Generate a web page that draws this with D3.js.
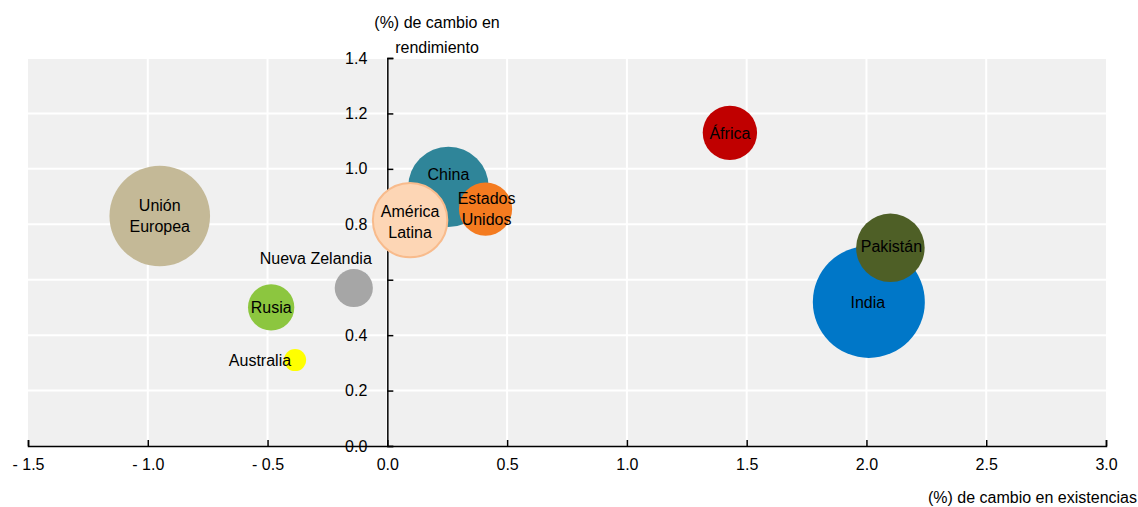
<!DOCTYPE html>
<html lang="es">
<head>
<meta charset="utf-8">
<title>Rendimiento vs existencias</title>
<script src="https://cdnjs.cloudflare.com/ajax/libs/d3/7.8.5/d3.min.js"></script>
<style>
  body { margin: 0; background: #fff; }
  svg text { font-family: "Liberation Sans", Arial, sans-serif; fill: #000; }
  .axis path, .axis line { stroke: #000; stroke-width: 1.5px; }
  .grid line { stroke: #fff; stroke-width: 2px; }
  .lbl { font-size: 16px; }
  .tick text { font-size: 16px; }
</style>
</head>
<body>
<div id="chart"></div>
<script>
// data
var regions = ["Unión Europea", "Rusia", "Australia", "Nueva Zelandia", "China",
               "Estados Unidos", "América Latina", "África", "India", "Pakistán"];
var stockChange = [-0.95, -0.485, -0.385, -0.14, 0.255, 0.41, 0.095, 1.43, 2.01, 2.10];
var yieldChange = [0.83, 0.50, 0.31, 0.57, 0.935, 0.855, 0.815, 1.13, 0.52, 0.715];
var bubbleSize  = [25, 5.3, 1.2, 3.6, 16, 7.0, 13.7, 7.3, 31, 11.6];
var colors = ["#c4b997", "#8cc63f", "#ffff00", "#a6a6a6", "#2f8599",
              "#f47b20", "#fdd6b5", "#c00000", "#0077c8", "#4e5f26"];
var xTicks = [-1.5, -1.0, -0.5, 0.0, 0.5, 1.0, 1.5, 2.0, 2.5, 3.0];
var yTicks = [0.0, 0.2, 0.4, 0.6, 0.8, 1.0, 1.2, 1.4];

var W = 1138, H = 507;
var m = {left: 28, right: 32, top: 58, bottom: 61};

var svg = d3.select("#chart").append("svg").attr("width", W).attr("height", H);

var x = d3.scaleLinear().domain([-1.5, 3.0]).range([m.left, W - m.right]);
var y = d3.scaleLinear().domain([0, 1.4]).range([H - m.bottom, m.top]);
var r = d3.scaleSqrt().domain([0, 31]).range([0, 56]);

// plot background
svg.append("rect")
  .attr("x", x(-1.5)).attr("y", y(1.4))
  .attr("width", x(3.0) - x(-1.5)).attr("height", y(0) - y(1.4))
  .attr("fill", "#f0f0f0");

var grid = svg.append("g").attr("class", "grid");
grid.selectAll(".vx").data(xTicks.slice(1, -1)).enter().append("line")
  .attr("x1", function(d){ return x(d); }).attr("x2", function(d){ return x(d); })
  .attr("y1", y(1.4)).attr("y2", y(0));
grid.selectAll(".hy").data(yTicks.slice(1)).enter().append("line")
  .attr("x1", x(-1.5)).attr("x2", x(3.0))
  .attr("y1", function(d){ return y(d); }).attr("y2", function(d){ return y(d); });

var fmt = function(d){ return d < 0 ? "- " + d3.format(".1f")(-d) : d3.format(".1f")(d); };

// x axis
var xg = svg.append("g").attr("class", "axis")
  .attr("transform", "translate(0," + y(0) + ")")
  .call(d3.axisBottom(x).tickValues(xTicks).tickFormat(fmt).tickSize(-6).tickSizeOuter(-6).tickPadding(14));
xg.selectAll(".tick text").attr("dy", "0.6em");

// y axis
var yg = svg.append("g").attr("class", "axis")
  .attr("transform", "translate(" + x(0) + ",0)")
  .call(d3.axisRight(y).tickValues(yTicks).tickFormat(d3.format(".1f")).tickSize(6).tickSizeOuter(6));
yg.selectAll(".tick text").attr("x", -20).attr("text-anchor", "end");

// bubbles
var data = regions.map(function(n, i){
  return {name: n, sx: stockChange[i], sy: yieldChange[i], s: bubbleSize[i], c: colors[i]};
});
svg.append("g").selectAll("circle").data(data).enter().append("circle")
  .attr("cx", function(d){ return x(d.sx); })
  .attr("cy", function(d){ return y(d.sy); })
  .attr("r", function(d){ return r(d.s); })
  .attr("fill", function(d){ return d.c; })
  .attr("stroke", function(d){ return d.name === "América Latina" ? "#f8bb8c" : "none"; })
  .attr("stroke-width", 2);

// labels: lines and offsets from bubble centre
var labelInfo = {
  "Unión Europea": {lines: ["Unión", "Europea"], dx: 0, dy: 0, anchor: "middle"},
  "Rusia": {lines: ["Rusia"], dx: 0, dy: 0, anchor: "middle"},
  "Australia": {lines: ["Australia"], dx: -4, dy: 0, anchor: "end"},
  "Nueva Zelandia": {lines: ["Nueva Zelandia"], dx: 18, dy: -30, anchor: "end"},
  "China": {lines: ["China"], dx: 0, dy: -12, anchor: "middle"},
  "Estados Unidos": {lines: ["Estados", "Unidos"], dx: 1, dy: 0, anchor: "middle"},
  "América Latina": {lines: ["América", "Latina"], dx: 0, dy: 2, anchor: "middle"},
  "África": {lines: ["África"], dx: 0, dy: 1, anchor: "middle"},
  "India": {lines: ["India"], dx: -1, dy: 1, anchor: "middle"},
  "Pakistán": {lines: ["Pakistán"], dx: 1, dy: -1, anchor: "middle"}
};
var lineH = 21;
data.forEach(function(d){
  var info = labelInfo[d.name];
  var cx = x(d.sx) + info.dx, cy = y(d.sy) + info.dy;
  var t = svg.append("text").attr("class", "lbl")
    .attr("text-anchor", info.anchor)
    .attr("x", cx).attr("y", cy - (info.lines.length - 1) * lineH / 2);
  info.lines.forEach(function(l, i){
    t.append("tspan").attr("x", cx).attr("dy", i === 0 ? "0.35em" : lineH).text(l);
  });
});

// axis titles
svg.append("text").attr("class", "lbl").attr("text-anchor", "middle")
  .attr("x", 437).attr("y", 28).text("(%) de cambio en");
svg.append("text").attr("class", "lbl").attr("text-anchor", "middle")
  .attr("x", 437).attr("y", 53).text("rendimiento");
svg.append("text").attr("class", "lbl").attr("text-anchor", "end")
  .attr("x", W - 1).attr("y", 503).text("(%) de cambio en existencias");
</script>
</body>
</html>
